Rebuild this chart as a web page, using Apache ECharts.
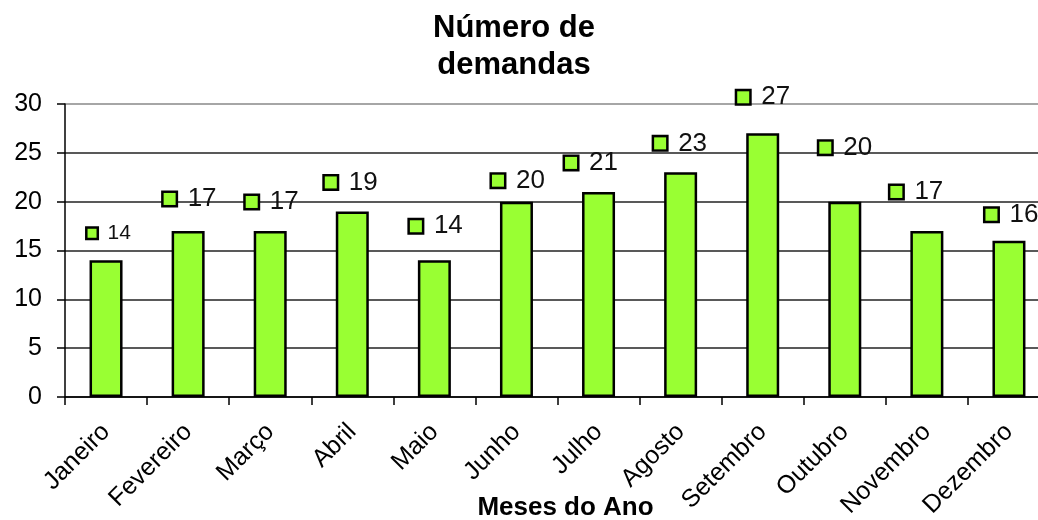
<!DOCTYPE html>
<html>
<head>
<meta charset="utf-8">
<script src="https://cdn.jsdelivr.net/npm/echarts@6/dist/echarts.min.js"></script>
<style>
    html, body { margin: 0; padding: 0; background: #fff; }
    #main { width: 1038px; height: 520px; }
</style>
</head>
<body>
<div id="main"></div>
<script>
// dados do gráfico
var meses = ['Janeiro', 'Fevereiro', 'Março', 'Abril', 'Maio', 'Junho',
    'Julho', 'Agosto', 'Setembro', 'Outubro', 'Novembro', 'Dezembro'];
var demandas = [14, 17, 17, 19, 14, 20, 21, 23, 27, 20, 17, 16];
var yTicks = [0, 5, 10, 15, 20, 25, 30];

// deslocamento dos rótulos (px, a partir do canto superior esquerdo da barra)
var labelDx = [-2, -8, -8, -11, -8, -8, -17, -10, -9, -9, -20, -7];
var labelDy = [-27, -32, -29, -29, -34, -21, -29, -29, -36, -54, -39, -26];

var verde = '#99FF33';
var fonte = '"Liberation Sans", Arial, sans-serif';

var myChart = echarts.init(document.getElementById('main'));

var dados = demandas.map(function (v, i) {
    var pequeno = i === 0; // o rótulo de Janeiro é menor
    return {
        value: v,
        label: {
            position: [labelDx[i], labelDy[i]],
            align: 'left',
            verticalAlign: 'middle',
            formatter: '{sq|}{gap|}{v|' + v + '}',
            rich: {
                sq: {
                    width: pequeno ? 9 : 12,
                    height: pequeno ? 9 : 12,
                    backgroundColor: verde,
                    borderColor: '#000',
                    borderWidth: 2.5,
                    verticalAlign: 'middle'
                },
                gap: { width: pequeno ? 11 : 12 },
                v: {
                    fontSize: pequeno ? 21 : 26,
                    fontFamily: fonte,
                    color: '#111',
                    verticalAlign: 'middle',
                    lineHeight: 28
                }
            }
        }
    };
});

var option = {
    animation: false,
    backgroundColor: '#fff',
    title: {
        text: 'Número de\ndemandas',
        left: 509,
        top: 5,
        textAlign: 'center',
        textStyle: {
            fontFamily: fonte,
            fontWeight: 'bold',
            fontSize: 31,
            lineHeight: 37,
            color: '#000'
        }
    },
    grid: {
        left: 65,
        top: 104,
        width: 985,
        bottom: 123,
        containLabel: false,
        outerBoundsMode: 'none'
    },
    xAxis: {
        type: 'category',
        data: meses,
        name: 'Meses do Ano',
        nameLocation: 'middle',
        nameGap: 98,
        nameMoveOverlap: false,
        nameTextStyle: {
            fontFamily: fonte,
            fontWeight: 'bold',
            fontSize: 26,
            color: '#000',
            padding: [0, 0, 0, 16]
        },
        axisLine: { lineStyle: { color: '#000', width: 1.5 } },
        axisTick: { show: true, length: 8, lineStyle: { color: '#000', width: 1.5 } },
        axisLabel: {
            interval: 0,
            rotate: 45,
            margin: 31,
            fontFamily: fonte,
            fontSize: 25,
            color: '#000'
        }
    },
    yAxis: {
        type: 'value',
        min: yTicks[0],
        max: yTicks[yTicks.length - 1],
        interval: 5,
        axisLine: { show: true, lineStyle: { color: '#000', width: 1.5 } },
        axisTick: { show: true, length: 8, lineStyle: { color: '#000', width: 1.5 } },
        axisLabel: {
            margin: 23,
            fontFamily: fonte,
            fontSize: 25,
            color: '#000'
        },
        splitLine: {
            lineStyle: {
                color: ['#222', '#222', '#222', '#222', '#222', '#222', '#888'],
                width: 1.5
            }
        }
    },
    series: [
        {
            type: 'bar',
            data: dados,
            barWidth: 33,
            itemStyle: {
                color: verde,
                borderColor: '#000',
                borderWidth: 2.5
            },
            label: { show: true }
        }
    ]
};

myChart.setOption(option);
</script>
</body>
</html>
